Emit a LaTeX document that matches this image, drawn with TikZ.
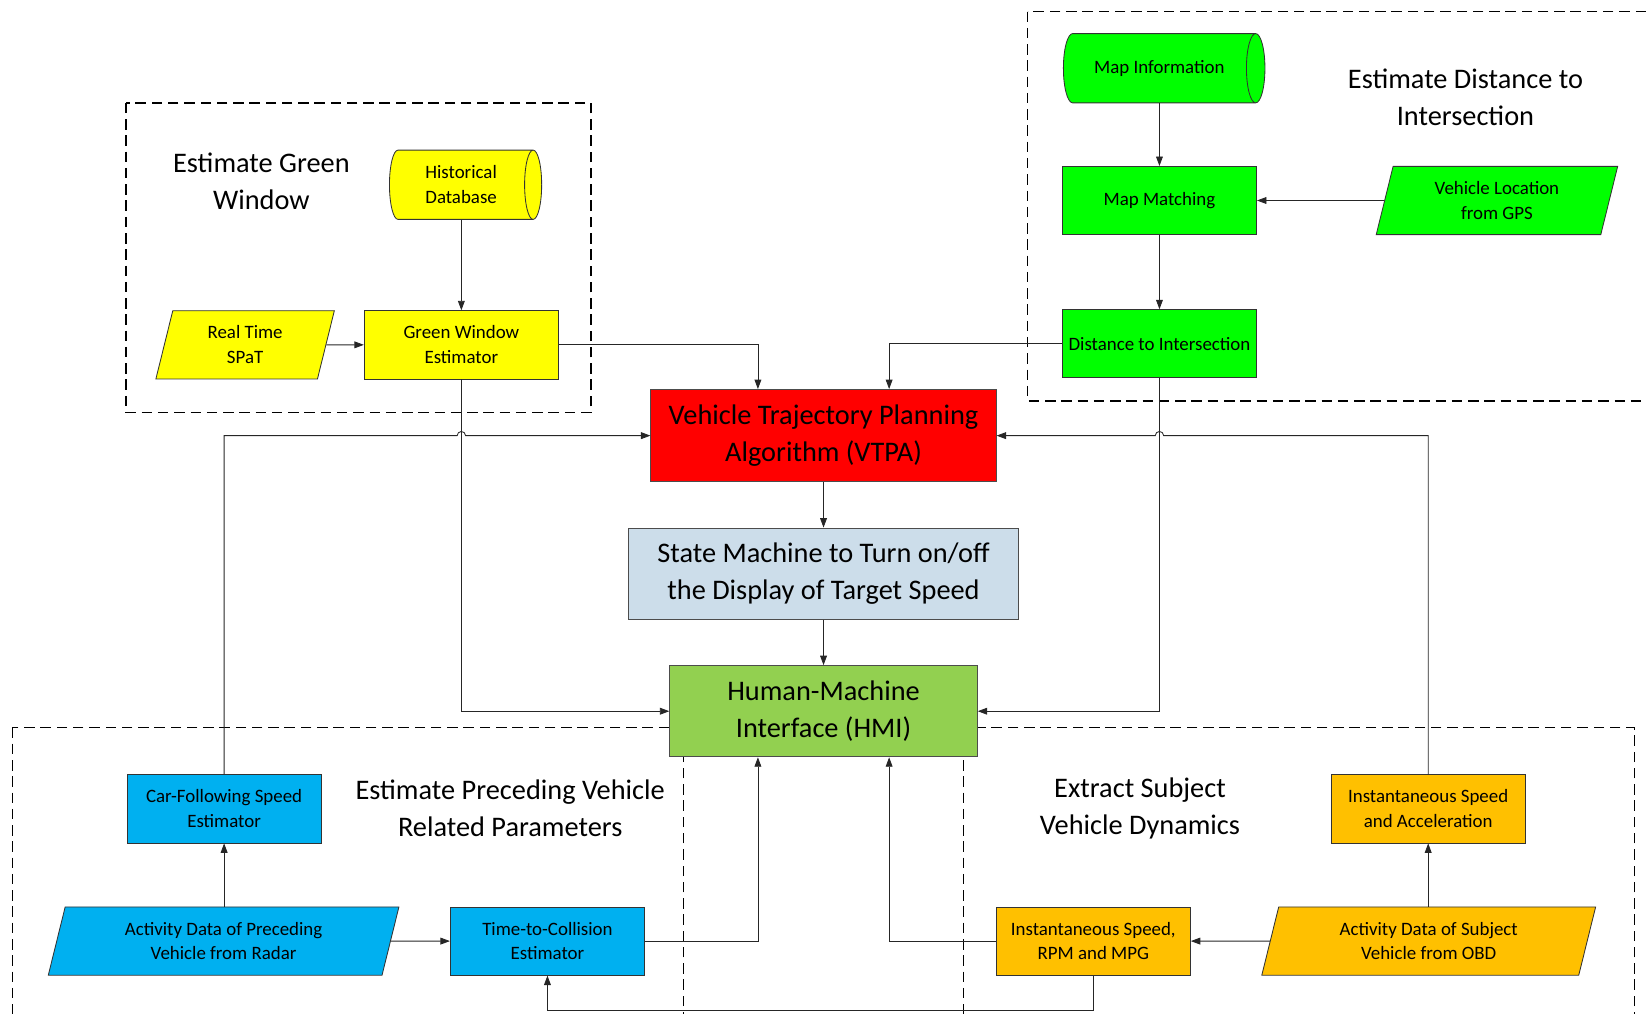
\documentclass[tikz,border=0pt]{standalone}
\usepackage{fontspec}
\setmainfont{Carlito}
\usetikzlibrary{shapes.geometric,arrows.meta}
\definecolor{cyel}{HTML}{FFFF00}
\definecolor{cgrn}{HTML}{00FF00}
\definecolor{cred}{HTML}{FF0000}
\definecolor{cblu}{HTML}{00B0F0}
\definecolor{corg}{HTML}{FFC000}
\definecolor{cgray}{HTML}{CCDDEA}
\definecolor{chmi}{HTML}{92D050}
\tikzset{
  base/.style={draw=black!80, line width=0.8pt, inner sep=0pt, align=center, font=\fontsize{18}{23.5}\selectfont},
  rbox/.style={base, rectangle, minimum width=185pt, minimum height=65pt},
  para/.style={base, trapezium, trapezium left angle=66, trapezium right angle=114, trapezium stretches body, minimum height=65pt},
  cyl/.style={base, cylinder, minimum width=66pt},
  bigbox/.style={draw=black!70, line width=0.8pt, rectangle, align=center, font=\fontsize{27}{35}\selectfont, inner sep=0pt},
  grptitle/.style={align=center, font=\fontsize{27}{35}\selectfont, inner sep=0pt},
  conn/.style={draw=black!85, line width=0.8pt},
  arr/.style={conn, -{Triangle[length=9pt,width=6.5pt]}},
  grp/.style={draw=black, line width=1.3pt, dash pattern=on 10pt off 5.5pt}
}
\begin{document}
\begin{tikzpicture}[x=1pt,y=-1pt]
\path[use as bounding box] (0,0) rectangle (1568,965);
\clip (0,0) rectangle (1568,965);
% group boxes
\draw[grp] (120,98) rectangle (563,393);
\draw[grp] (979,11) rectangle (1600,382);
\draw[grp] (12,693) rectangle (651,1010);
\draw[grp] (918,693) rectangle (1557,1010);
% titles
\node[grptitle] (t1) at (249,173) {Estimate Green\\Window};
\node[grptitle] (t2) at (1396,93) {Estimate Distance to\\Intersection};
\node[grptitle] (t3) at (486,770) {Estimate Preceding Vehicle\\Related Parameters};
\node[grptitle] (t4) at (1086,770) {Extract Subject\\Vehicle Dynamics};
% nodes
\node[cyl, shape aspect=0.45, fill=cyel, minimum height=145pt, anchor=shape center] (hd) at (443.5,176) {Historical\\Database};
\node[para, fill=cyel, minimum width=170pt] (spat) at (233.5,328.5) {Real Time\\SPaT};
\node[rbox, fill=cyel] (gwe) at (439.5,328.5) {Green Window\\Estimator};
\node[cyl, shape aspect=1.15, fill=cgrn, minimum height=192pt, anchor=shape center] (mi) at (1109,65) {Map Information};
\node[rbox, fill=cgrn] (mm) at (1104.5,191) {Map Matching};
\node[para, fill=cgrn, minimum width=230pt] (gps) at (1426,191) {Vehicle Location\\from GPS};
\node[rbox, fill=cgrn] (dti) at (1104.5,327.5) {Distance to Intersection};
\node[bigbox, fill=cred, minimum width=329pt, minimum height=88pt] (vtpa) at (784.5,415) {Vehicle Trajectory Planning\\Algorithm (VTPA)};
\node[bigbox, fill=cgray, minimum width=371pt, minimum height=87pt] (sm) at (784.5,546.5) {State Machine to Turn on/off\\the Display of Target Speed};
\node[bigbox, fill=chmi, minimum width=293pt, minimum height=87pt] (hmi) at (784.5,677.5) {Human-Machine\\Interface (HMI)};
\node[rbox, fill=cblu] (cf) at (213.5,770.5) {Car-Following Speed\\Estimator};
\node[para, fill=cblu, minimum width=334pt] (radar) at (213,896.5) {Activity Data of Preceding\\Vehicle from Radar};
\node[rbox, fill=cblu] (ttc) at (521.5,896.5) {Time-to-Collision\\Estimator};
\node[rbox, fill=corg] (isrm) at (1041.5,896.5) {Instantaneous Speed,\\RPM and MPG};
\node[para, fill=corg, minimum width=318pt] (obd) at (1361,896.5) {Activity Data of Subject\\Vehicle from OBD};
\node[rbox, fill=corg] (isa) at (1360.5,770.5) {Instantaneous Speed\\and Acceleration};
% helper coordinates for hops
\coordinate (h1) at (gwe.south |- vtpa.west);
\coordinate (h2) at (dti.south |- vtpa.east);
% connectors
\draw[arr] (gwe.north |- hd.south) -- (gwe.north);
\draw[arr] (spat.east) -- (gwe.west);
\draw[arr] (gwe.east) -| ([xshift=-62.5pt]vtpa.north);
\draw[arr] (mm.north |- mi.south) -- (mm.north);
\draw[arr] (gps.west) -- (mm.east);
\draw[arr] (mm.south) -- (dti.north);
\draw[arr] (dti.west) -| ([xshift=62.5pt]vtpa.north);
\draw[arr] (vtpa.south) -- (sm.north);
\draw[arr] (sm.south) -- (hmi.north);
\draw[arr] (gwe.south) |- (hmi.west);
\draw[arr] (dti.south) |- (hmi.east);
\draw[arr] (cf.north) -- (cf.north |- vtpa.west) -- ([xshift=-4pt]h1) arc[start angle=180,end angle=0,radius=4pt] -- (vtpa.west);
\draw[arr] (isa.north) -- (isa.north |- vtpa.east) -- ([xshift=4pt]h2) arc[start angle=0,end angle=180,radius=4pt] -- (vtpa.east);
\draw[arr] (radar.east) -- (ttc.west);
\draw[arr] (cf.south |- radar.north) -- (cf.south);
\draw[arr] (ttc.east) -| ([xshift=-62.5pt]hmi.south);
\draw[arr] (isrm.west) -| ([xshift=62.5pt]hmi.south);
\draw[arr] (isa.south |- obd.north) -- (isa.south);
\draw[arr] (obd.west) -- (isrm.east);
\draw[arr] (isrm.south) -- ++(0,33) -| (ttc.south);
\end{tikzpicture}
\end{document}
